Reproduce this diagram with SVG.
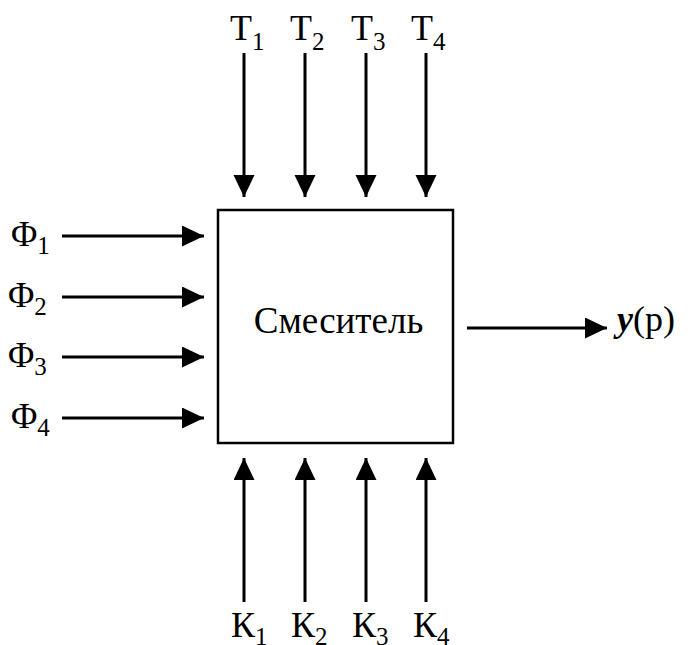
<svg xmlns="http://www.w3.org/2000/svg" width="694" height="645" viewBox="0 0 694 645" font-family="serif">
<defs>
<marker id="ah" markerUnits="userSpaceOnUse" markerWidth="24" markerHeight="22" refX="22" refY="10.5" orient="auto">
<path d="M0,0 L22,10.5 L0,21 Z" fill="#000"/>
</marker>
</defs>
<rect width="694" height="645" fill="#fff"/>
<g id="mixer">
<rect x="218" y="210" width="235" height="233" fill="none" stroke="#000" stroke-width="2.5"/>
<text font-family="serif" font-size="37" x="338.5" y="333" text-anchor="middle">Смеситель</text>
</g>
<g id="connectors" stroke="#000" stroke-width="3" fill="none" marker-end="url(#ah)">
<line x1="244" y1="53" x2="244" y2="197"/>
<line x1="305" y1="53" x2="305" y2="197"/>
<line x1="366" y1="53" x2="366" y2="197"/>
<line x1="426" y1="53" x2="426" y2="197"/>
<line x1="62" y1="236" x2="204" y2="236"/>
<line x1="62" y1="297" x2="204" y2="297"/>
<line x1="62" y1="357" x2="204" y2="357"/>
<line x1="62" y1="418" x2="204" y2="418"/>
<line x1="244" y1="602" x2="244" y2="458"/>
<line x1="305" y1="602" x2="305" y2="458"/>
<line x1="366" y1="602" x2="366" y2="458"/>
<line x1="426" y1="602" x2="426" y2="458"/>
<line x1="467" y1="328" x2="607" y2="328"/>
</g>
<g id="T1"><text font-family="serif" font-size="36" x="230" y="40">T<tspan font-size="25" dy="10">1</tspan></text></g>
<g id="T2"><text font-family="serif" font-size="36" x="290" y="40">T<tspan font-size="25" dy="10">2</tspan></text></g>
<g id="T3"><text font-family="serif" font-size="36" x="351" y="40">T<tspan font-size="25" dy="10">3</tspan></text></g>
<g id="T4"><text font-family="serif" font-size="36" x="411" y="40">T<tspan font-size="25" dy="10">4</tspan></text></g>
<g id="F1"><text font-family="serif" font-size="36" x="11" y="246">Φ<tspan font-size="25" dy="8">1</tspan></text></g>
<g id="F2"><text font-family="serif" font-size="36" x="8" y="307">Φ<tspan font-size="25" dy="8">2</tspan></text></g>
<g id="F3"><text font-family="serif" font-size="36" x="8" y="367">Φ<tspan font-size="25" dy="8">3</tspan></text></g>
<g id="F4"><text font-family="serif" font-size="36" x="11" y="428">Φ<tspan font-size="25" dy="8">4</tspan></text></g>
<g id="K1"><text font-family="serif" font-size="36" x="231" y="637">К<tspan font-size="25" dy="8">1</tspan></text></g>
<g id="K2"><text font-family="serif" font-size="36" x="291" y="637">К<tspan font-size="25" dy="8">2</tspan></text></g>
<g id="K3"><text font-family="serif" font-size="36" x="352" y="637">К<tspan font-size="25" dy="8">3</tspan></text></g>
<g id="K4"><text font-family="serif" font-size="36" x="413" y="637">К<tspan font-size="25" dy="8">4</tspan></text></g>
<g id="output"><text font-family="serif" font-size="36" x="617" y="331"><tspan font-weight="bold" font-style="italic">у</tspan>(р)</text></g>
</svg>
